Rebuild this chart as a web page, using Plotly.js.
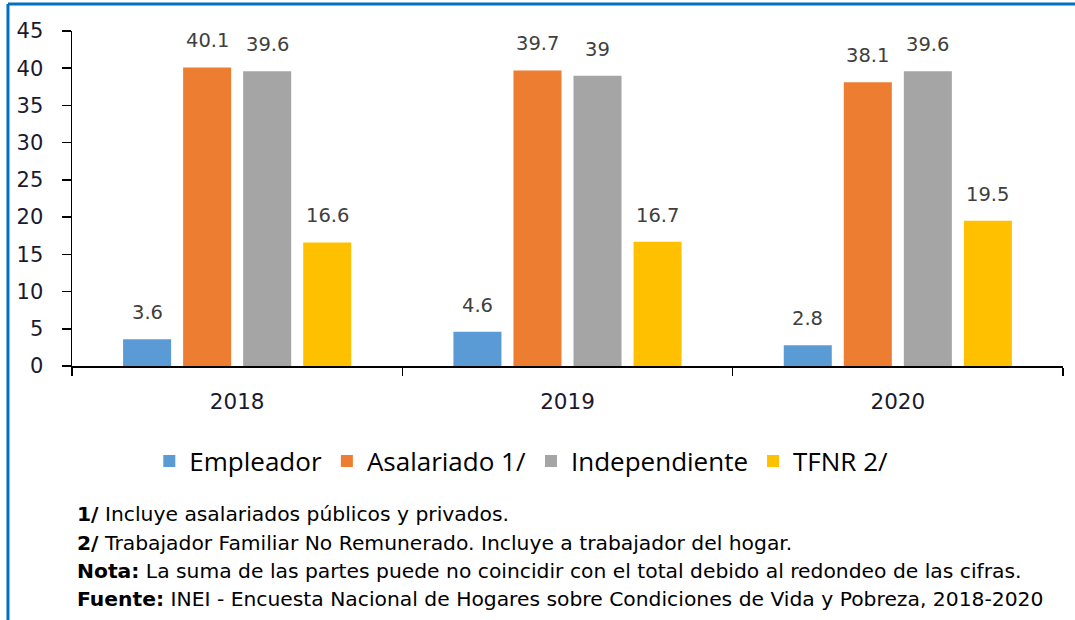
<!DOCTYPE html>
<html><head><meta charset="utf-8">
<script src="https://cdn.plot.ly/plotly-3.0.1.min.js"></script>
<style>html,body{margin:0;padding:0;background:#fff}#chart{width:1075px;height:620px}</style>
</head><body><div id="chart"></div>
<script>
const categories = ['2018', '2019', '2020'];
const seriesNames = ['Empleador', 'Asalariado 1/', 'Independiente', 'TFNR 2/'];
const empleador = [3.6, 4.6, 2.8];
const asalariado = [40.1, 39.7, 38.1];
const independiente = [39.6, 39.0, 39.6];
const tfnr = [16.6, 16.7, 19.5];
const yTicks = [0, 5, 10, 15, 20, 25, 30, 35, 40, 45];
const footnotes = [
  ['1/', ' Incluye asalariados públicos y privados.'],
  ['2/', ' Trabajador Familiar No Remunerado. Incluye a trabajador del hogar.'],
  ['Nota:', ' La suma de las partes puede no coincidir con el total debido al redondeo de las cifras.'],
  ['Fuente:', ' INEI - Encuesta Nacional de Hogares sobre Condiciones de Vida y Pobreza, 2018-2020']
];

const colors = ['#5B9BD5', '#ED7D31', '#A5A5A5', '#FFC000'];
const allSeries = [empleador, asalariado, independiente, tfnr];

const traces = allSeries.map((vals, i) => ({
  type: 'bar', name: seriesNames[i], x: categories, y: vals,
  marker: {color: colors[i]}, hoverinfo: 'skip'
}));

const annotations = [];
allSeries.forEach((vals, i) => {
  vals.forEach((v, j) => {
    annotations.push({
      x: j, y: v, xref: 'x', yref: 'y', text: String(v),
      showarrow: false, yanchor: 'bottom', yshift: 13, xshift: (i - 1.5) * 60,
      font: {family: 'DejaVu Sans, Verdana, sans-serif', size: 19.5, color: '#404040'}
    });
  });
});
const fnY = [-0.4418, -0.5284, -0.612, -0.6955];
footnotes.forEach((f, k) => {
  annotations.push({
    xref: 'paper', yref: 'paper', x: 0.003, y: fnY[k], xanchor: 'left', yanchor: 'middle',
    showarrow: false, align: 'left',
    text: '<b>' + f[0] + '</b>' + f[1],
    font: {family: 'DejaVu Sans, sans-serif', size: 20.3, color: '#000'}
  });
});

const layout = {
  width: 1075, height: 620,
  margin: {l: 72, r: 12, t: 31, b: 254},
  paper_bgcolor: '#fff', plot_bgcolor: '#fff',
  barmode: 'group', bargap: 0.273, bargroupgap: 0.2,
  showlegend: true,
  legend: {orientation: 'h', x: 0.078, xanchor: 'left', y: -0.2836, yanchor: 'middle',
    font: {family: 'Open Sans, sans-serif', size: 26, color: '#000'}, itemwidth: 30, traceorder: 'normal'},
  xaxis: {type: 'category', range: [-0.5, 2.5], showline: true, linecolor: '#000', linewidth: 1.5,
    ticks: 'outside', tickson: 'boundaries', ticklen: 8, tickcolor: '#000', tickwidth: 1.5,
    ticklabelstandoff: 16, tickangle: 0,
    tickfont: {family: 'DejaVu Sans, Verdana, sans-serif', size: 21.5, color: '#1a1a2e'},
    showgrid: false, zeroline: false},
  yaxis: {range: [0, 45], tickvals: yTicks, showline: true, linecolor: '#000', linewidth: 1.5,
    ticks: 'outside', ticklen: 9, tickcolor: '#000', tickwidth: 1.5,
    ticklabelstandoff: 14,
    tickfont: {family: 'DejaVu Sans, Verdana, sans-serif', size: 21, color: '#1a1a2e'},
    showgrid: false, zeroline: false},
  annotations: annotations,
  shapes: [
    {type: 'line', xref: 'paper', yref: 'paper', x0: -0.0646, x1: -0.0646, y0: 1.0806, y1: -0.76, line: {color: '#0070C0', width: 3}},
    {type: 'line', xref: 'paper', yref: 'paper', x0: -0.0646, x1: 1.013, y0: 1.0806, y1: 1.0806, line: {color: '#0070C0', width: 3}}
  ]
};
Plotly.newPlot('chart', traces, layout, {displayModeBar: false, staticPlot: true});
</script></body></html>
